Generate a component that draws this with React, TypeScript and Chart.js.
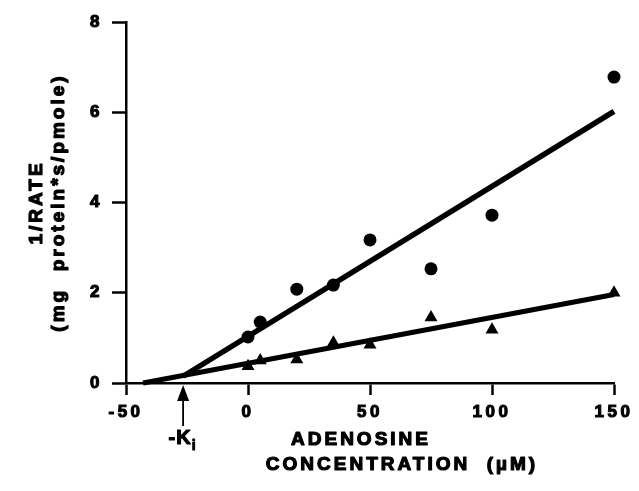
import React, { useEffect, useRef } from "react";
import { Chart, registerables } from "chart.js";

Chart.register(...registerables);

// ---- data ----
const concentrations = [0, 5, 20, 35, 50, 75, 100, 150];
const circleValues = [1.02, 1.35, 2.08, 2.17, 3.17, 2.53, 3.72, 6.78];
const triangleValues = [0.37, 0.5, 0.52, 0.89, 0.85, 1.45, 1.18, 2.0];
const circleFitX = [-26.6, 150];
const circleFitY = [0.15, 6.02];
const triangleFitX = [-43, 150];
const triangleFitY = [0, 1.96];
const kiValue = -26.6;
const xMin = -50;
const xMax = 150;
const xStep = 50;
const yMin = 0;
const yMax = 8;
const yStep = 2;
const yTitle = ["1/RATE", "(mg  protein*s/pmole)"];
const xTitle = ["ADENOSINE", "CONCENTRATION  (\u00b5M)"];
const kiLabel = "-K";
const kiSub = "i";

const FONT = '"Liberation Sans", Arial, Helvetica, sans-serif';

function heavyText(ctx: CanvasRenderingContext2D, text: string, x: number, y: number, w = 1) {
  ctx.fillText(text, x, y);
  ctx.lineWidth = w;
  ctx.lineJoin = "round";
  ctx.strokeText(text, x, y);
}

const annotPlugin = {
  id: "annot",
  beforeDraw(chart: any) {
    chart.ctx.letterSpacing = "3.5px";
  },
  afterDraw(chart: any) {
    const ctx = chart.ctx as CanvasRenderingContext2D;
    const xs = chart.scales.x;
    const ys = chart.scales.y;
    ctx.save();
    const ax = xs.getPixelForValue(kiValue);
    const y0 = ys.getPixelForValue(0);
    const area = chart.chartArea;
    ctx.fillStyle = "#000";
    ctx.strokeStyle = "#000";
    ctx.lineWidth = 1.8;
    // arrow
    ctx.beginPath();
    ctx.moveTo(ax, y0 + 14);
    ctx.lineTo(ax, y0 + 43);
    ctx.stroke();
    ctx.beginPath();
    ctx.moveTo(ax, y0 + 2);
    ctx.lineTo(ax - 6, y0 + 18);
    ctx.lineTo(ax + 6, y0 + 18);
    ctx.closePath();
    ctx.fill();
    // -Ki label
    ctx.letterSpacing = "1px";
    ctx.textBaseline = "alphabetic";
    ctx.textAlign = "left";
    ctx.font = `bold 20px ${FONT}`;
    const kw = ctx.measureText(kiLabel).width;
    const kx = ax - kw / 2 - 3;
    heavyText(ctx, kiLabel, kx, y0 + 61, 1.2);
    ctx.font = `bold 14px ${FONT}`;
    heavyText(ctx, kiSub, kx + kw, y0 + 67, 1);
    // x axis title
    ctx.letterSpacing = "3px";
    ctx.font = `bold 19px ${FONT}`;
    ctx.textAlign = "center";
    heavyText(ctx, xTitle[0], 361, y0 + 62, 1.2);
    heavyText(ctx, xTitle[1], 402, y0 + 87, 1.2);
    // y axis title (rotated)
    const cy = (area.top + area.bottom) / 2;
    ctx.letterSpacing = "3px";
    ctx.textBaseline = "middle";
    ctx.textAlign = "center";
    ctx.translate(37, cy);
    ctx.rotate(-Math.PI / 2);
    heavyText(ctx, yTitle[0], 0, 0, 1.2);
    heavyText(ctx, yTitle[1], 0, 21.5, 1.2);
    ctx.restore();
    ctx.letterSpacing = "0px";
  },
};

export default function App() {
  const ref = useRef<HTMLCanvasElement>(null);
  useEffect(() => {
    if (!ref.current) return;
    Chart.defaults.font.family = FONT;
    Chart.defaults.color = "#000";
    const circles = concentrations.map((x, i) => ({ x, y: circleValues[i] }));
    const triangles = concentrations.map((x, i) => ({ x, y: triangleValues[i] }));
    const circleFit = circleFitX.map((x, i) => ({ x, y: circleFitY[i] }));
    const triangleFit = triangleFitX.map((x, i) => ({ x, y: triangleFitY[i] }));
    const chart = new Chart(ref.current, {
      type: "scatter",
      data: {
        datasets: [
          {
            label: "circles",
            data: circles,
            pointStyle: "circle",
            pointRadius: 6.5,
            backgroundColor: "#000",
            borderColor: "#000",
            borderWidth: 0,
            showLine: false,
            clip: false,
          },
          {
            label: "triangles",
            data: triangles,
            pointStyle: "triangle",
            pointRadius: 7.5,
            backgroundColor: "#000",
            borderColor: "#000",
            borderWidth: 0,
            showLine: false,
            clip: false,
          },
          {
            label: "circle fit",
            data: circleFit,
            showLine: true,
            pointRadius: 0,
            borderColor: "#000",
            borderWidth: 5.5,
            backgroundColor: "#000",
            clip: false,
          },
          {
            label: "triangle fit",
            data: triangleFit,
            showLine: true,
            pointRadius: 0,
            borderColor: "#000",
            borderWidth: 5,
            backgroundColor: "#000",
            clip: false,
          },
        ],
      },
      options: {
        animation: false,
        responsive: false,
        maintainAspectRatio: false,
        layout: { padding: { top: 22, right: 25, left: 0, bottom: 0 } },
        plugins: {
          legend: { display: false },
          tooltip: { enabled: false },
        },
        scales: {
          x: {
            type: "linear",
            min: xMin,
            max: xMax,
            ticks: {
              stepSize: xStep,
              padding: 7,
              font: { size: 17, weight: "bold" },
              color: "#000",
              textStrokeColor: "#000",
              textStrokeWidth: 1.1,
            },
            grid: {
              drawOnChartArea: false,
              drawTicks: true,
              tickLength: 12,
              tickWidth: 2.5,
              tickColor: "#000",
            },
            border: { display: true, color: "#000", width: 2.5 },
            afterFit(scale: any) {
              scale.height = 108;
            },
          },
          y: {
            type: "linear",
            min: yMin,
            max: yMax,
            ticks: {
              stepSize: yStep,
              padding: 9,
              font: { size: 17, weight: "bold" },
              color: "#000",
              textStrokeColor: "#000",
              textStrokeWidth: 1.1,
            },
            grid: {
              drawOnChartArea: false,
              drawTicks: true,
              tickLength: 14,
              tickWidth: 2.5,
              tickColor: "#000",
            },
            border: { display: true, color: "#000", width: 2.5 },
            afterFit(scale: any) {
              scale.width = 126;
            },
          },
        },
      },
      plugins: [annotPlugin],
    } as any);
    return () => chart.destroy();
  }, []);
  return (
    <canvas
      ref={ref}
      width={639}
      height={491}
      style={{ position: "absolute", left: 0, top: 0, width: 639, height: 491, display: "block", background: "#fff" }}
    />
  );
}
